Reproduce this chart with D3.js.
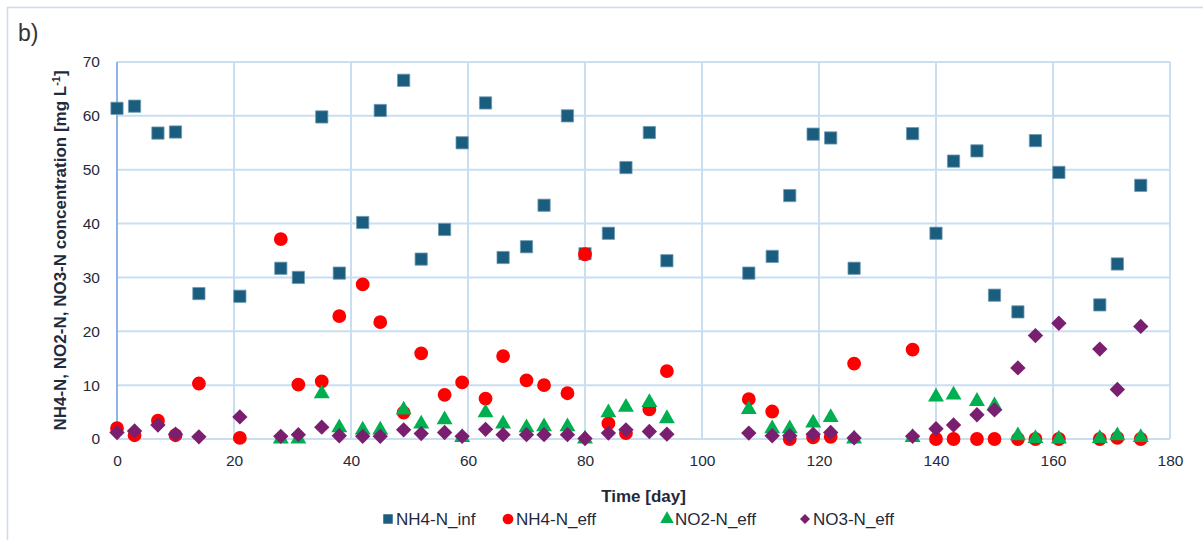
<!DOCTYPE html>
<html>
<head>
<meta charset="utf-8">
<script src="https://cdn.jsdelivr.net/npm/d3@7"></script>
<style>
  body { margin: 0; background: #fff; }
  text { font-family: "Liberation Sans", Arial, sans-serif; fill: #1f2a3c; }
</style>
</head>
<body>
<script>
const w = 1203;
const h = 540;

// sampling days
const days = [0, 3, 7, 10, 14, 21, 28, 31, 35, 38, 42, 45, 49, 52, 56, 59, 63, 66, 70, 73, 77, 80, 84, 87, 91, 94,
  108, 112, 115, 119, 122, 126, 136, 140, 143, 147, 150, 154, 157, 161, 168, 171, 175];

const nh4Inf = [61.4, 61.8, 56.8, 57.0, 27.0, 26.5, 31.7, 30.0, 59.8, 30.8, 40.2, 61.0, 66.6, 33.4, 38.9, 55.0, 62.4, 33.7, 35.7, 43.4, 60.0, 34.4, 38.2, 50.4, 56.9, 33.1,
  30.8, 33.9, 45.2, 56.6, 55.9, 31.7, 56.7, 38.2, 51.6, 53.5, 26.7, 23.6, 55.4, 49.5, 24.9, 32.5, 47.1];
const nh4Eff = [2.0, 0.7, 3.4, 0.7, 10.3, 0.2, 37.1, 10.1, 10.7, 22.8, 28.7, 21.7, 4.9, 15.9, 8.2, 10.5, 7.5, 15.4, 10.9, 10.0, 8.5, 34.3, 2.9, 1.1, 5.5, 12.6,
  7.4, 5.1, 0.0, 0.3, 0.4, 14.0, 16.6, 0.0, 0.0, 0.0, 0.0, 0.0, 0.0, 0.0, 0.0, 0.2, 0.0];
const no2Eff = [null, null, null, null, null, null, 0.0, 0.0, 8.4, 2.1, 1.7, 1.7, 5.4, 2.8, 3.6, 0.3, 4.9, 2.8, 2.1, 2.3, 2.3, 0.0, 4.9, 5.9, 6.8, 3.8,
  5.5, 1.9, 1.9, 3.0, 4.0, 0.0, 0.3, 7.8, 8.2, 7.0, 6.2, 0.6, 0.1, 0.0, 0.1, 0.6, 0.3];
const no3Eff = [1.2, 1.5, 2.6, 0.9, 0.4, 4.1, 0.5, 0.8, 2.2, 0.6, 0.5, 0.5, 1.7, 1.0, 1.2, 0.5, 1.8, 0.8, 0.8, 0.8, 0.8, 0.1, 1.1, 1.7, 1.4, 0.9,
  1.1, 0.6, 0.6, 0.9, 1.2, 0.2, 0.5, 1.9, 2.6, 4.5, 5.4, 13.2, 19.2, 21.5, 16.7, 9.2, 20.9];

const seriesNames = ["NH4-N_inf", "NH4-N_eff", "NO2-N_eff", "NO3-N_eff"];
const seriesColors = ["#1b5d7f", "#ff0000", "#00b050", "#7a1f6f"];
const xTicks = [0, 20, 40, 60, 80, 100, 120, 140, 160, 180];
const yTicks = [0, 10, 20, 30, 40, 50, 60, 70];

const margin = { left: 117, right: 33, top: 62, bottom: 101 };

const svg = d3.select("body")
  .append("svg")
  .attr("width", w)
  .attr("height", h);

// chart frame
svg.append("rect")
  .attr("x", 7.5).attr("y", 7.5)
  .attr("width", w + 20).attr("height", h + 20)
  .attr("fill", "none")
  .attr("stroke", "#c9dcf0")
  .attr("stroke-width", 1.5);

svg.append("text")
  .attr("x", 18).attr("y", 41)
  .attr("font-size", 23)
  .style("fill", "#333")
  .text("b)");

const x = d3.scaleLinear().domain([0, 180]).range([margin.left, w - margin.right]);
const y = d3.scaleLinear().domain([0, 70]).range([h - margin.bottom, margin.top]);

// grid
svg.append("g")
  .selectAll("line.v")
  .data(xTicks)
  .enter()
  .append("line")
  .attr("x1", d => x(d)).attr("x2", d => x(d))
  .attr("y1", y(0)).attr("y2", y(70))
  .attr("stroke", d => d === 0 ? "#8fb6e3" : "#cadef2")
  .attr("stroke-width", 2);

svg.append("g")
  .selectAll("line.h")
  .data(yTicks)
  .enter()
  .append("line")
  .attr("x1", x(0)).attr("x2", x(180))
  .attr("y1", d => y(d)).attr("y2", d => y(d))
  .attr("stroke", "#cadef2")
  .attr("stroke-width", 2);

svg.append("line")
  .attr("x1", x(0)).attr("x2", x(0))
  .attr("y1", y(0)).attr("y2", y(70))
  .attr("stroke", "#8fb6e3")
  .attr("stroke-width", 2);

// axes (labels only)
const xAxis = svg.append("g")
  .attr("transform", `translate(0,${y(0) + 8})`)
  .call(d3.axisBottom(x).tickValues(xTicks).tickSize(0).tickPadding(8));
const yAxis = svg.append("g")
  .attr("transform", `translate(${x(0) - 9},0)`)
  .call(d3.axisLeft(y).tickValues(yTicks).tickSize(0).tickPadding(8));
[xAxis, yAxis].forEach(g => {
  g.select(".domain").remove();
  g.selectAll("text")
    .attr("font-size", 15.5)
    .attr("font-family", "'Liberation Sans', Arial, sans-serif")
    .style("fill", "#1f2a3c");
});

// axis titles
svg.append("text")
  .attr("x", (x(0) + x(180)) / 2).attr("y", 502)
  .attr("text-anchor", "middle")
  .attr("font-size", 17)
  .attr("font-weight", "bold")
  .text("Time [day]");

const yTitle = svg.append("text")
  .attr("transform", `translate(66,${(y(0) + y(70)) / 2}) rotate(-90)`)
  .attr("text-anchor", "middle")
  .attr("font-size", 17)
  .attr("font-weight", "bold");
yTitle.append("tspan").text("NH4-N, NO2-N, NO3-N concentration [mg L");
yTitle.append("tspan").attr("dy", -6).attr("font-size", 11).text("-1");
yTitle.append("tspan").attr("dy", 6).text("]");

// marker shapes (diamond = rotated square)
const markers = [
  d3.symbol().type(d3.symbolSquare).size(150),
  d3.symbol().type(d3.symbolCircle).size(150),
  d3.symbol().type(d3.symbolTriangle).size(110),
  d3.symbol().type(d3.symbolSquare).size(118)
];

const allSeries = [nh4Inf, nh4Eff, no2Eff, no3Eff];

allSeries.forEach((vals, i) => {
  const pts = days.map((d, j) => ({ day: d, v: vals[j] })).filter(p => p.v !== null);
  svg.append("g")
    .selectAll("path")
    .data(pts)
    .enter()
    .append("path")
    .attr("d", markers[i])
    .attr("transform", p => `translate(${x(p.day)},${y(p.v)})` + (i === 3 ? " rotate(45)" : ""))
    .attr("fill", seriesColors[i])
    .attr("stroke", i === 0 ? "#6d9bb4" : "none")
    .attr("stroke-width", i === 0 ? 0.8 : 0)
    .attr("stroke-linejoin", "round");
});

// legend
const legendX = [388, 508, 667, 805];
const legend = svg.append("g");
seriesNames.forEach((name, i) => {
  legend.append("path")
    .attr("d", d3.symbol().type([d3.symbolSquare, d3.symbolCircle, d3.symbolTriangle, d3.symbolSquare][i]).size([90, 90, 80, 50][i]))
    .attr("transform", `translate(${legendX[i]},${519})` + (i === 3 ? " rotate(45)" : ""))
    .attr("fill", seriesColors[i]);
  legend.append("text")
    .attr("x", legendX[i] + 8).attr("y", 525)
    .attr("font-size", 17)
    .text(name);
});
</script>
</body>
</html>
